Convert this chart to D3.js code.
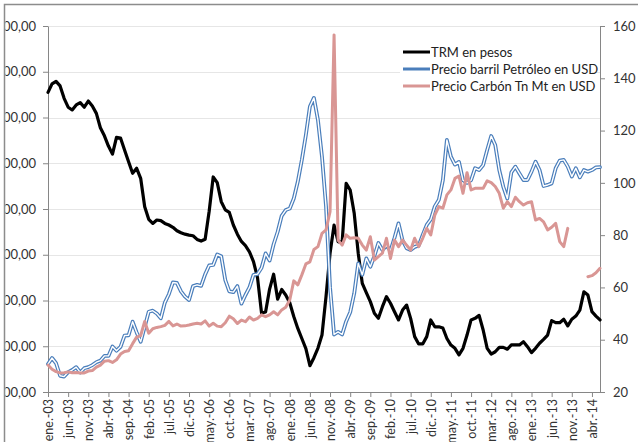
<!DOCTYPE html>
<html>
<head>
<meta charset="utf-8">
<script src="https://cdn.jsdelivr.net/npm/d3@7"></script>
<style>
  body { margin: 0; background: #fff; }
  text { font-family: Lato, "Liberation Sans", sans-serif; }
</style>
</head>
<body>
<div id="chart"></div>
<script>
// meses de ene.-03 a jun.-14
const meses = ["ene.", "feb.", "mar.", "abr.", "may.", "jun.", "jul.", "ago.", "sep.", "oct.", "nov.", "dic."]
const anios = ["03", "04", "05", "06", "07", "08", "09", "10", "11", "12", "13", "14"]
const categorias = anios.flatMap(a => meses.map(m => m + "-" + a)).slice(0, 138)

const etiquetasX = ["ene.-03", "jun.-03", "nov.-03", "abr.-04", "sep.-04", "feb.-05", "jul.-05", "dic.-05",
  "may.-06", "oct.-06", "mar.-07", "ago.-07", "ene.-08", "jun.-08", "nov.-08", "abr.-09", "sep.-09",
  "feb.-10", "jul.-10", "dic.-10", "may.-11", "oct.-11", "mar.-12", "ago.-12", "ene.-13", "jun.-13",
  "nov.-13", "abr.-14"]
const ticksIzq = [1600, 1800, 2000, 2200, 2400, 2600, 2800, 3000, 3200]
const ticksDer = [20, 40, 60, 80, 100, 120, 140, 160]

// TRM en pesos (eje izquierdo)
const trm = [
  2910, 2947, 2958, 2938, 2884, 2845, 2833, 2855, 2865, 2845, 2872, 2850,
  2818, 2755, 2720, 2675, 2640, 2713, 2710, 2658, 2607, 2556, 2578, 2534,
  2410, 2355, 2337, 2352, 2349, 2337, 2330, 2320, 2305, 2296, 2290, 2286,
  2283, 2267, 2260, 2268, 2390, 2540, 2515, 2432, 2396, 2385, 2330, 2290,
  2258, 2240, 2213, 2170, 2100, 1945, 1950, 2050, 2115, 2006, 2048, 2024,
  1990, 1930, 1878, 1834, 1790, 1715, 1750, 1792, 1849, 2017, 2206, 2330,
  2257, 2253, 2512, 2483, 2381, 2206, 2075, 2034, 1995, 1944, 1922, 1973,
  2017, 1988, 1951, 1915, 1958, 1980, 1922, 1842, 1810, 1810, 1842, 1915,
  1885, 1885, 1880, 1834, 1805, 1791, 1762, 1791, 1849, 1915, 1922, 1935,
  1871, 1791, 1766, 1776, 1795, 1795, 1787, 1806, 1806, 1806, 1820, 1798,
  1772, 1791, 1813, 1830, 1849, 1912, 1903, 1903, 1918, 1889, 1918, 1932,
  1958, 2038, 2024, 1951, 1932, 1915
]

// Precio barril Petróleo en USD (eje derecho)
const petroleo = [
  30.7, 33.0, 31.0, 26.2, 25.9, 27.6, 28.4, 29.5, 27.5, 29.1, 29.5, 30.3,
  31.4, 32.0, 33.8, 33.8, 37.4, 35.8, 37.3, 41.6, 41.7, 46.9, 42.8, 39.2,
  45.0, 50.7, 51.1, 50.0, 48.2, 54.2, 57.4, 61.9, 61.7, 58.5, 56.5, 55.2,
  60.5, 61.0, 60.6, 65.0, 68.4, 68.6, 72.6, 71.9, 62.8, 58.5, 58.2, 60.5,
  53.8, 57.1, 60.0, 64.8, 65.1, 67.5, 73.0, 70.3, 76.5, 81.3, 87.4, 89.6,
  90.2, 94.0, 100.5, 108.8, 118.3, 129.2, 132.5, 124.0, 110.0, 91.0, 60.0, 42.0,
  43.0, 42.0, 47.0, 50.5, 57.7, 69.2, 64.8, 71.1, 67.9, 72.0, 77.0, 74.3,
  76.0, 74.0, 79.0, 84.5, 78.0, 75.0, 74.3, 75.5, 76.0, 80.1, 83.9, 86.0,
  91.0, 93.5, 101.0, 116.4, 110.0, 107.0, 108.0, 101.0, 100.0, 101.0, 105.6, 104.9,
  106.8, 112.6, 117.9, 114.5, 104.9, 98.5, 94.0, 104.0, 106.2, 103.6, 101.1, 101.1,
  104.3, 108.1, 104.9, 98.8, 99.2, 99.8, 105.6, 108.5, 108.8, 106.2, 102.4, 105.6,
  102.1, 104.9, 104.3, 104.9, 105.9, 106.0
]

// Precio Carbón Tn Mt en USD (eje derecho), null = sin dato
const carbon = [
  30.3, 28.7, 27.8, 27.3, 27.4, 27.7, 27.4, 27.5, 27.3, 27.3, 28.0, 28.2,
  29.5, 30.3, 31.8, 32.0, 31.3, 32.3, 34.5, 35.5, 35.8, 38.5, 41.0, 41.6,
  47.0, 42.5, 44.2, 44.7, 45.0, 45.5, 47.0, 45.3, 46.0, 45.2, 45.3, 45.6,
  46.0, 46.3, 46.0, 47.2, 45.2, 46.3, 45.2, 45.0, 46.5, 49.0, 48.0, 46.2,
  47.5, 46.9, 48.7, 47.5, 48.2, 49.5, 48.8, 49.5, 50.7, 49.5, 51.4, 52.4,
  55.2, 62.5, 61.0, 64.8, 69.0, 69.8, 74.5, 75.6, 80.7, 82.0, 89.0, 156.6,
  78.0, 76.2, 80.1, 78.8, 79.0, 78.8, 76.2, 74.3, 79.4, 70.5, 71.8, 73.1,
  78.8, 71.1, 78.1, 75.6, 78.1, 76.2, 74.3, 78.8, 75.6, 78.8, 82.6, 80.1,
  87.7, 90.9, 90.3, 95.4, 97.3, 101.7, 102.6, 96.0, 103.9, 97.3, 97.9, 97.9,
  97.9, 100.8, 100.1, 98.6, 96.0, 90.3, 92.8, 90.9, 94.5, 92.8, 91.5, 92.4,
  92.8, 85.8, 86.4, 85.1, 82.0, 83.0, 84.5, 77.5, 75.6, 82.6, null, null,
  null, null, 64.1, 64.5, 65.6, 67.3
]

const series = [
  { nombre: "TRM en pesos", color: "#000000" },
  { nombre: "Precio barril Petróleo en USD", color: "#4a7ebb" },
  { nombre: "Precio Carbón Tn Mt en USD", color: "#d99694" }
]

const width = 638
const height = 442
const marginTop = 26
const marginRight = 38
const marginBottom = 50
const marginLeft = 48

const svg = d3.select("#chart").append("svg")
  .attr("width", width)
  .attr("height", height)

const x = d3.scaleLinear([0, categorias.length - 1], [marginLeft, width - marginRight])
const yIzq = d3.scaleLinear([1600, 3200], [height - marginBottom, marginTop])
const yDer = d3.scaleLinear([20, 160], [height - marginBottom, marginTop])

const es = d3.formatLocale({ decimal: ",", thousands: ".", grouping: [3], currency: ["$", ""] })
const fmt = es.format(",.2f")

// marco exterior del gráfico
svg.append("path")
  .attr("d", `M4.5,${height} V4.5 H${width}`)
  .attr("fill", "none")
  .attr("stroke", "#8c8c8c")
  .attr("stroke-width", 1.5)

// líneas de cuadrícula
svg.append("g")
  .selectAll("line")
  .data(ticksIzq.slice(1))
  .join("line")
  .attr("x1", marginLeft)
  .attr("x2", width - marginRight)
  .attr("y1", d => Math.round(yIzq(d)) + 0.5)
  .attr("y2", d => Math.round(yIzq(d)) + 0.5)
  .attr("stroke", "#e6e6e6")

// el borde izquierdo corta las etiquetas del eje izquierdo
svg.append("clipPath").attr("id", "recorte")
  .append("rect").attr("x", 5.5).attr("y", 0).attr("width", 60).attr("height", height)

// eje izquierdo
svg.append("g")
  .attr("clip-path", "url(#recorte)")
  .append("g")
  .attr("transform", `translate(${marginLeft},0)`)
  .call(d3.axisLeft(yIzq).tickValues(ticksIzq).tickFormat(fmt).tickSize(5).tickSizeOuter(0).tickPadding(7))
  .call(g => g.select(".domain").attr("stroke", "#868686"))
  .call(g => g.selectAll(".tick line").attr("stroke", "#868686"))
  .call(g => g.selectAll("text").attr("fill", "#333").style("font-size", "13px"))

// eje derecho
svg.append("g")
  .attr("transform", `translate(${width - marginRight},0)`)
  .call(d3.axisRight(yDer).tickValues(ticksDer).tickSize(5).tickSizeOuter(0).tickPadding(8))
  .call(g => g.select(".domain").attr("stroke", "#868686"))
  .call(g => g.selectAll(".tick line").attr("stroke", "#868686"))
  .call(g => g.selectAll("text").attr("fill", "#333").style("font-size", "13px"))

// eje X
svg.append("g")
  .attr("transform", `translate(0,${height - marginBottom})`)
  .call(d3.axisBottom(x)
    .tickValues(etiquetasX.map(e => categorias.indexOf(e)))
    .tickFormat(i => categorias[i])
    .tickSize(5).tickSizeOuter(0))
  .call(g => g.select(".domain").attr("stroke", "#868686"))
  .call(g => g.selectAll(".tick line").attr("stroke", "#868686"))
  .call(g => g.selectAll("text")
    .attr("fill", "#333")
    .style("font-size", "12.5px")
    .attr("transform", "rotate(-90)")
    .attr("text-anchor", "end")
    .attr("x", -7)
    .attr("y", 0)
    .attr("dy", "0.35em"))

const linea = (escala) => d3.line()
  .defined(d => d != null)
  .x((d, i) => x(i))
  .y(d => escala(d))

const trazos = svg.append("g")
  .attr("fill", "none")
  .attr("stroke-linejoin", "round")
  .attr("stroke-linecap", "round")

trazos.append("path")
  .attr("d", linea(yIzq)(trm))
  .attr("stroke", series[0].color)
  .attr("stroke-width", 3.2)

// petróleo: línea doble (azul con centro blanco)
trazos.append("path")
  .attr("d", linea(yDer)(petroleo))
  .attr("stroke", series[1].color)
  .attr("stroke-width", 3.8)
trazos.append("path")
  .attr("d", linea(yDer)(petroleo))
  .attr("stroke", "#fff")
  .attr("stroke-width", 1.4)

trazos.append("path")
  .attr("d", linea(yDer)(carbon))
  .attr("stroke", series[2].color)
  .attr("stroke-width", 3)

// leyenda
const leyenda = svg.append("g")
leyenda.append("rect")
  .attr("x", 400).attr("y", 42)
  .attr("width", 192).attr("height", 54)
  .attr("fill", "#fff")

const item = leyenda.selectAll("g")
  .data(series)
  .join("g")
  .attr("transform", (d, i) => `translate(403,${52 + i * 17})`)
item.append("line")
  .attr("x1", 0).attr("x2", 27)
  .attr("stroke", d => d.color)
  .attr("stroke-width", 3)
item.append("text")
  .attr("x", 28)
  .attr("dy", "0.35em")
  .attr("fill", "#222")
  .style("font-size", "13px")
  .text(d => d.nombre)
</script>
</body>
</html>
